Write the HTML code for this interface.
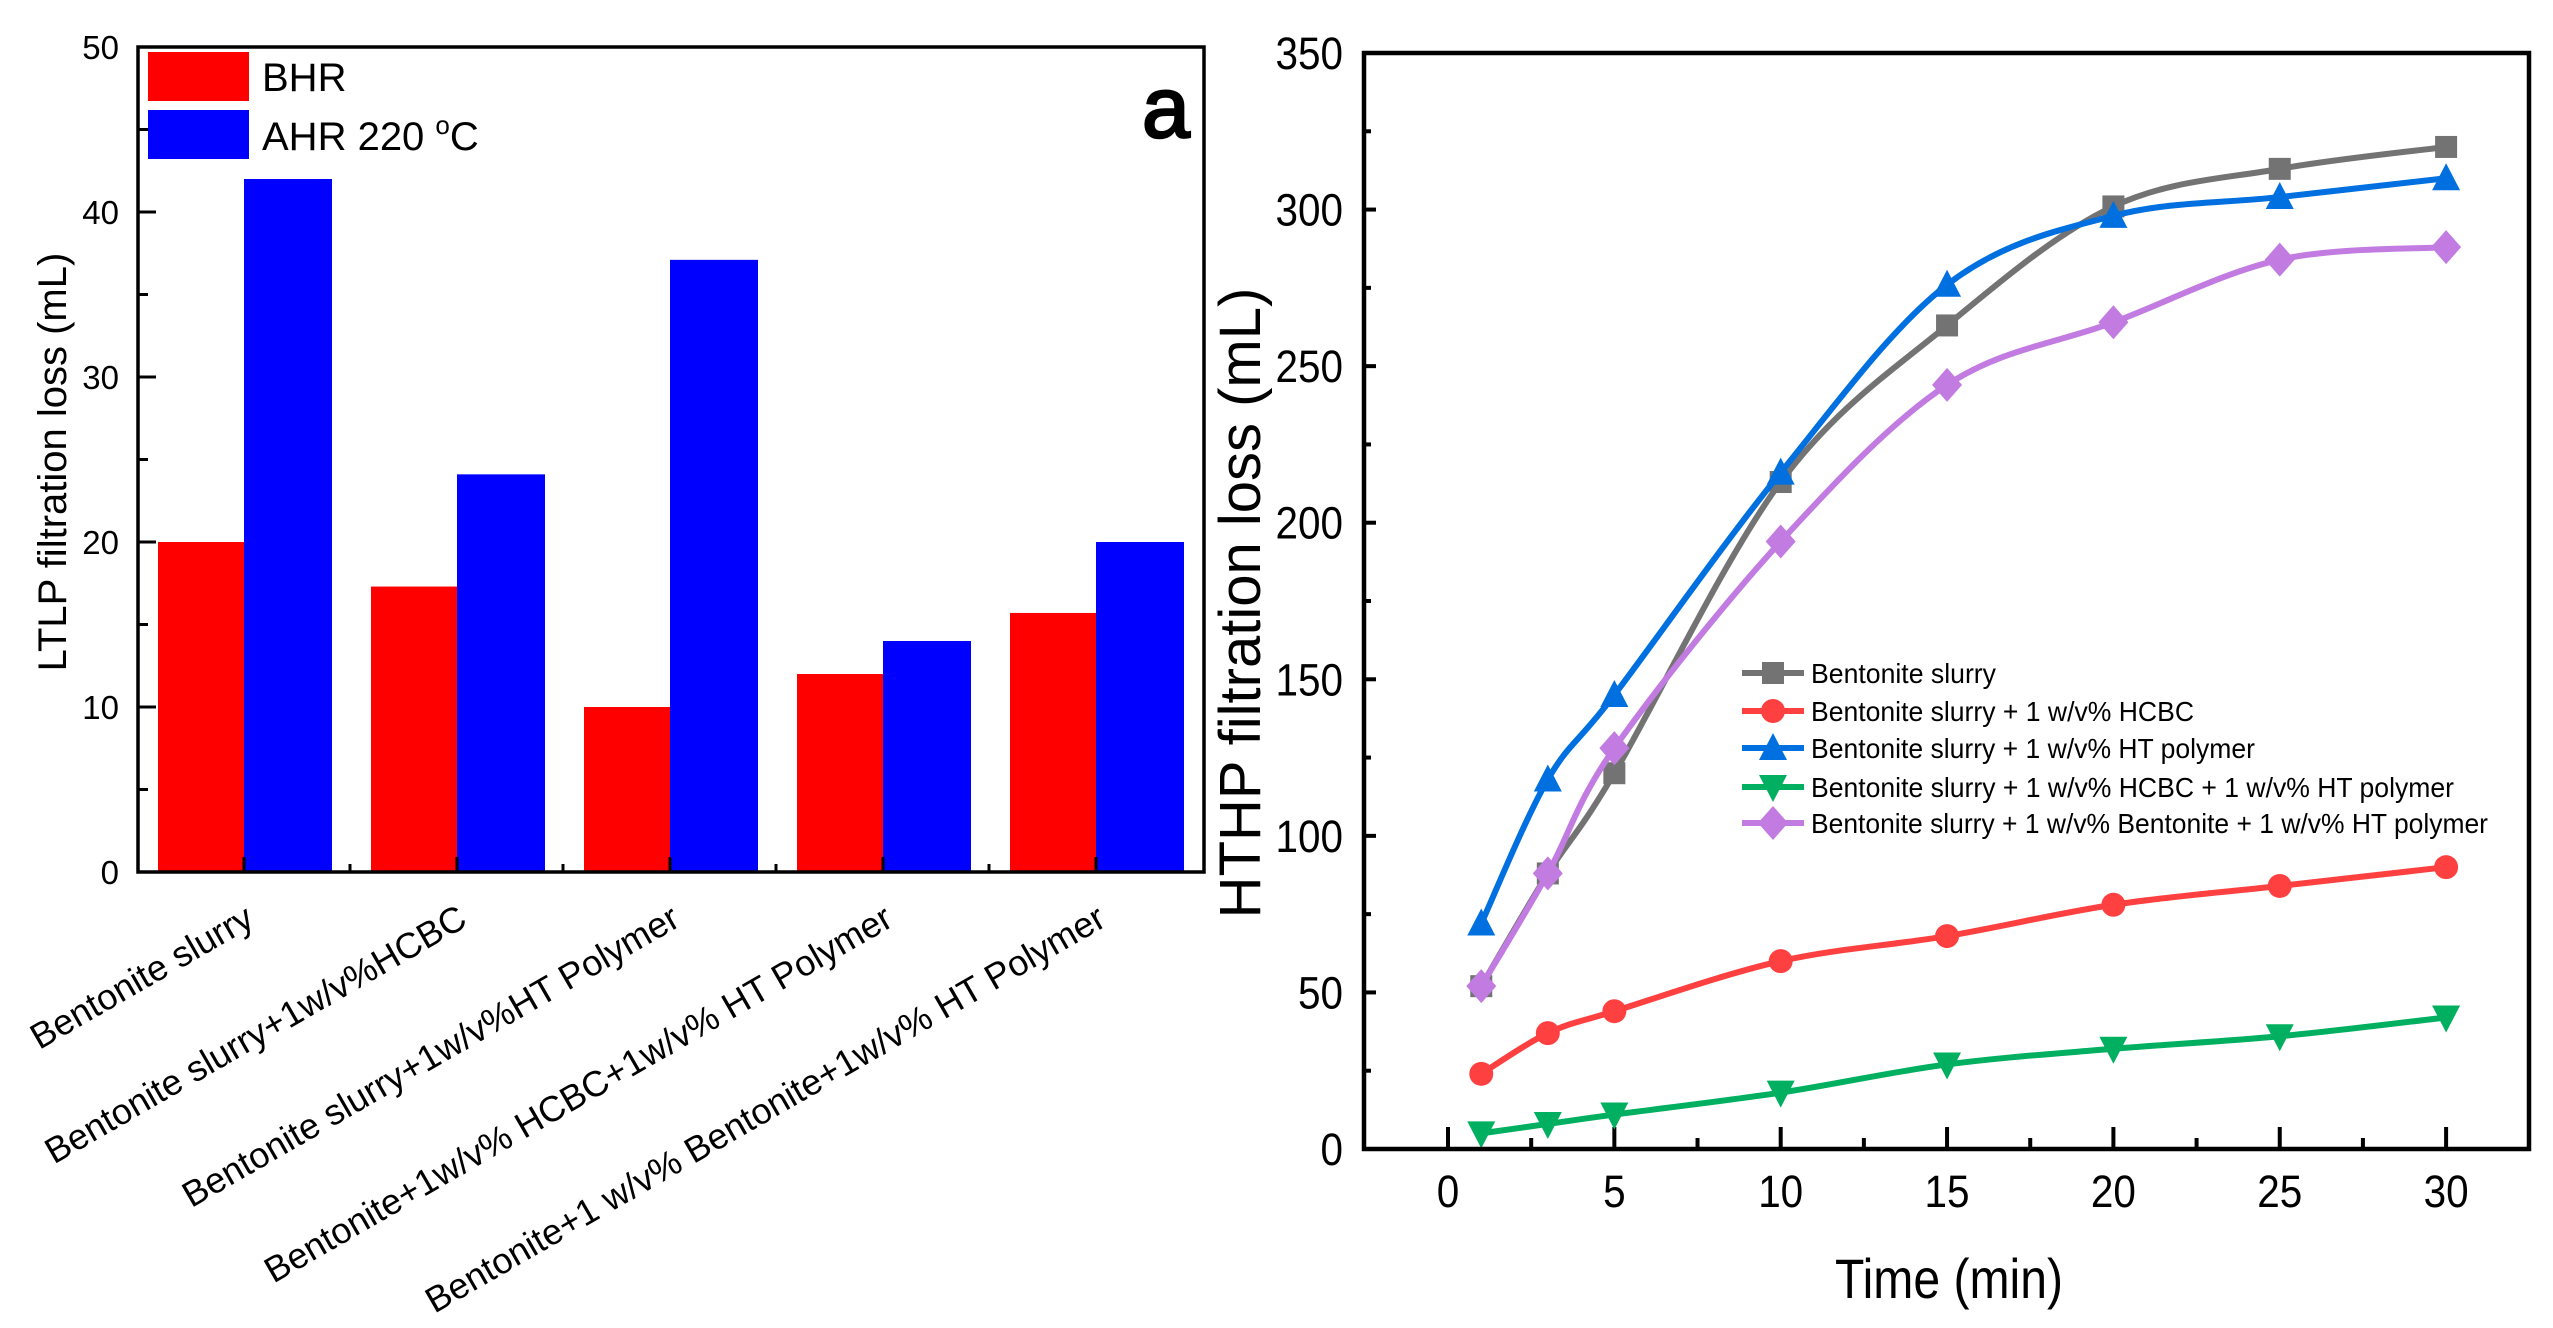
<!DOCTYPE html>
<html><head><meta charset="utf-8"><style>
html,body{margin:0;padding:0;background:#fff;}
svg{display:block;font-family:"Liberation Sans",sans-serif;}
</style></head><body>
<svg id="fig" width="2553" height="1328" viewBox="0 0 2553 1328" xmlns="http://www.w3.org/2000/svg">
<g id="left"></g>
<g id="right"></g>
</svg>
<script>
// ---- Left chart data ----
const barCategories = ["Bentonite slurry","Bentonite slurry+1w/v%HCBC","Bentonite slurry+1w/v%HT Polymer","Bentonite+1w/v% HCBC+1w/v% HT Polymer","Bentonite+1 w/v% Bentonite+1w/v% HT Polymer"];
const bhrValues = [20, 17.3, 10, 12, 15.7];
const ahrValues = [42, 24.1, 37.1, 14, 20];
const leftTicks = [0,10,20,30,40,50];
// ---- Right chart data ----
const timeValues = [1,3,5,10,15,20,25,30];
const slurry = [52,88,120,213,263,301,313,320];
const slurryHCBC = [24,37,44,60,68,78,84,90];
const slurryHT = [72,118,145,216,276,298,304,310];
const slurryHCBCHT = [5,8,11,18,27,32,36,42];
const slurryBentHT = [52,88,128,194,244,264,284,288];
const rightYTicks = [0,50,100,150,200,250,300,350];
const rightXTicks = [0,5,10,15,20,25,30];
const seriesNames = ["Bentonite slurry","Bentonite slurry + 1 w/v% HCBC","Bentonite slurry + 1 w/v% HT polymer","Bentonite slurry + 1 w/v% HCBC + 1 w/v% HT polymer","Bentonite slurry + 1 w/v% Bentonite + 1 w/v% HT polymer"];

const NS="http://www.w3.org/2000/svg";
function mk(parent,tag,attrs,text){const e=document.createElementNS(NS,tag);for(const k in attrs)e.setAttribute(k,attrs[k]);if(text!==undefined)e.textContent=text;parent.appendChild(e);return e;}

// ===== Left chart =====
const L=document.getElementById('left');
const lx0=138,lx1=1204,ly0=872,ly1=47;
const ly=v=>ly0-(v/50)*(ly0-ly1);
const gx=i=>244+i*213;
const bw=86;
barCategories.forEach((c,i)=>{
  let r=mk(L,'rect',{x:gx(i)-bw,y:ly(bhrValues[i]),width:bw,height:ly0-ly(bhrValues[i]),fill:'#ff0000'});
  
  
  let b=mk(L,'rect',{x:gx(i),y:ly(ahrValues[i]),width:bw+2,height:ly0-ly(ahrValues[i]),fill:'#0000ff'});
  
  
  mk(L,'line',{x1:gx(i),x2:gx(i),y1:ly0,y2:ly0-15,stroke:'#000','stroke-width':3});
  if(i<4) mk(L,'line',{x1:gx(i)+106,x2:gx(i)+106,y1:ly0,y2:ly0-8,stroke:'#000','stroke-width':3});
  let t=mk(L,'text',{x:gx(i)+12,y:925,'font-size':36,'text-anchor':'end',transform:`rotate(-30 ${gx(i)+12} 925)`},c);
  
  
});
leftTicks.forEach(v=>{
  mk(L,'line',{x1:lx0,x2:lx0+18,y1:ly(v),y2:ly(v),stroke:'#000','stroke-width':3});
  if(v<50) mk(L,'line',{x1:lx0,x2:lx0+10,y1:ly(v+5),y2:ly(v+5),stroke:'#000','stroke-width':3});
  let t=mk(L,'text',{x:119,y:ly(v)+12,'font-size':33,'text-anchor':'end'},String(v));
  
  
});
let lf=mk(L,'rect',{x:lx0,y:ly1,width:lx1-lx0,height:ly0-ly1,fill:'none',stroke:'#000','stroke-width':3.5});

let lyt=mk(L,'text',{x:66,y:462,'font-size':40,'text-anchor':'middle',transform:'rotate(-90 66 462)'},'LTLP filtration loss (mL)');

mk(L,'rect',{x:148,y:52,width:101,height:49,fill:'#ff0000'});
let lg1=mk(L,'text',{x:262,y:91,'font-size':40},'BHR');

mk(L,'rect',{x:148,y:110,width:101,height:49,fill:'#0000ff'});
let lg2=mk(L,'text',{x:262,y:150,'font-size':40},'AHR 220 ');

mk(lg2,'tspan',{'font-size':26,dy:-16},'o');
mk(lg2,'tspan',{'font-size':40,dy:16},'C');
let pa=mk(L,'text',{x:1142,y:137,'font-size':86,stroke:'#000','stroke-width':2.5},'a');


// ===== Right chart =====
const R=document.getElementById('right');
const rx0=1364,rx1=2529,ry0=1149,ry1=53;
const rx=t=>1448+t*33.27;
const ry=v=>ry0-(v/350)*(ry0-ry1);
rightYTicks.forEach(v=>{
  mk(R,'line',{x1:rx0,x2:rx0+12,y1:ry(v),y2:ry(v),stroke:'#000','stroke-width':4});
  if(v<350) mk(R,'line',{x1:rx0,x2:rx0+7,y1:ry(v+25),y2:ry(v+25),stroke:'#000','stroke-width':4});
  const s=String(v);
  let t=mk(R,'text',{x:1343-s.length*22.5,y:ry(v)+16,'font-size':45,textLength:s.length*22.5,lengthAdjust:'spacingAndGlyphs'},s);
  
});
rightXTicks.forEach(v=>{
  mk(R,'line',{x1:rx(v),x2:rx(v),y1:ry0,y2:ry0-22,stroke:'#000','stroke-width':4});
  if(v<30) mk(R,'line',{x1:rx(v+2.5),x2:rx(v+2.5),y1:ry0,y2:ry0-11,stroke:'#000','stroke-width':4});
  const s=String(v);const w=s.length*22.5;
  let t=mk(R,'text',{x:rx(v)-w/2,y:1207,'font-size':45,textLength:w,lengthAdjust:'spacingAndGlyphs'},s);
  
});
function spline(xs,ys){
  const p=xs.map((x,i)=>[rx(x),ry(ys[i])]);
  let d=`M${p[0][0]},${p[0][1]}`;
  for(let i=0;i<p.length-1;i++){
    const p0=p[Math.max(0,i-1)],p1=p[i],p2=p[i+1],p3=p[Math.min(p.length-1,i+2)];
    const k=6;
    const c1=[p1[0]+(p2[0]-p0[0])/k,p1[1]+(p2[1]-p0[1])/k];
    const c2=[p2[0]-(p3[0]-p1[0])/k,p2[1]-(p3[1]-p1[1])/k];
    d+=` C${c1[0]},${c1[1]} ${c2[0]},${c2[1]} ${p2[0]},${p2[1]}`;
  }
  return d;
}
function marker(g,type,x,y,color){
  const s=11;
  if(type==='sq') return mk(g,'rect',{x:x-s,y:y-s,width:2*s,height:2*s,fill:color});
  if(type==='ci') return mk(g,'circle',{cx:x,cy:y,r:s+1,fill:color});
  if(type==='up') return mk(g,'polygon',{points:`${x},${y-15} ${x+14},${y+12} ${x-14},${y+12}`,fill:color});
  if(type==='dn') return mk(g,'polygon',{points:`${x},${y+15} ${x+14},${y-12} ${x-14},${y-12}`,fill:color});
  return mk(g,'polygon',{points:`${x},${y-17} ${x+15},${y} ${x},${y+17} ${x-15},${y}`,fill:color});
}
const series=[
  [slurry,'#737373','sq','series-bentonite-slurry'],
  [slurryHCBC,'#ff4040','ci','series-hcbc'],
  [slurryHT,'#0070e0','up','series-ht-polymer'],
  [slurryHCBCHT,'#00b060','dn','series-hcbc-ht-polymer'],
  [slurryBentHT,'#c27be0','di','series-bentonite-ht-polymer']
];
const drawOrder=[1,3,0,2,4];
drawOrder.forEach(k=>{
  const [vals,col,m,name]=series[k];
  const g=mk(R,'g',{});
  
  
  mk(g,'path',{d:spline(timeValues,vals),fill:'none',stroke:col,'stroke-width':6});
  vals.forEach((v,i)=>{const e=marker(g,m,rx(timeValues[i]),ry(v),col);
    
    });
});
// legend
const legY=[673,711,748,787,823];
const legLen=[185,383,444,643,677];
series.forEach((s,i)=>{
  const g=mk(R,'g',{});
  
  
  mk(g,'line',{x1:1742,x2:1804,y1:legY[i],y2:legY[i],stroke:s[1],'stroke-width':6});
  marker(g,s[2],1773,legY[i],s[1]);
  mk(g,'text',{x:1811,y:legY[i]+10,'font-size':28,textLength:legLen[i],lengthAdjust:'spacingAndGlyphs'},seriesNames[i]);
});
let rf=mk(R,'rect',{x:rx0,y:ry1,width:rx1-rx0,height:ry0-ry1,fill:'none',stroke:'#000','stroke-width':4.5});

let ryt=mk(R,'text',{x:1260,y:603,'font-size':58,'text-anchor':'middle',transform:'rotate(-90 1260 603)'},'HTHP filtration loss (mL)');

let rxt=mk(R,'text',{x:1835,y:1298,'font-size':56,textLength:228,lengthAdjust:'spacingAndGlyphs'},'Time (min)');

</script>
</body></html>
